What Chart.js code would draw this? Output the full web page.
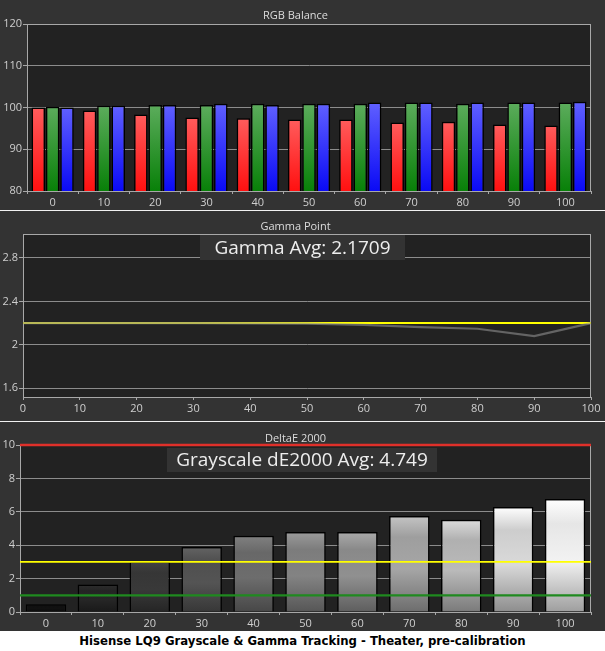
<!DOCTYPE html>
<html>
<head>
<meta charset="utf-8">
<script src="https://cdn.jsdelivr.net/npm/chart.js@4.4.1/dist/chart.umd.min.js"></script>
<style>
  html, body { margin: 0; padding: 0; background: #ffffff; }
  body { width: 605px; height: 651px; position: relative; overflow: hidden; }
  .panel { position: absolute; left: 0; width: 605px; background: #333333; }
  .sep { position: absolute; left: 0; width: 605px; height: 1px; background: #f2f2f2; }
  #caption { position: absolute; left: 0; top: 631px; width: 605px; height: 20px; line-height: 20px;
    text-align: center; font-family: 'DejaVu Sans Condensed', 'DejaVu Sans', sans-serif; font-weight: bold;
    font-size: 13px; color: #000; }
</style>
</head>
<body>
<div class="panel" style="top:0;height:210px"><canvas id="rgb"></canvas></div>
<div class="sep" style="top:210px"></div>
<div class="panel" style="top:211px;height:210px"><canvas id="gamma"></canvas></div>
<div class="sep" style="top:421px"></div>
<div class="panel" style="top:422px;height:209px"><canvas id="de"></canvas></div>
<div id="caption">Hisense LQ9 Grayscale &amp; Gamma Tracking - Theater, pre-calibration</div>
<script>
// ---------- DATA ----------
const levels = ['0','10','20','30','40','50','60','70','80','90','100'];
const redValues   = [100.0, 99.3, 98.3, 97.6, 97.4, 97.1, 97.1, 96.4, 96.6, 95.9, 95.7];
const greenValues = [100.2, 100.4, 100.6, 100.6, 100.9, 100.9, 100.9, 101.2, 100.9, 101.2, 101.2];
const blueValues  = [100.0, 100.4, 100.6, 100.9, 100.6, 100.9, 101.2, 101.2, 101.2, 101.2, 101.4];
const rgbTicks = [80, 90, 100, 110, 120];

const gammaTarget = [2.2, 2.2, 2.2, 2.2, 2.2, 2.2, 2.2, 2.2, 2.2, 2.2, 2.2];
const gammaMeasured = [2.2, 2.2, 2.2, 2.2, 2.198, 2.195, 2.184, 2.163, 2.148, 2.08, 2.2];
const gammaTicks = [1.6, 2.0, 2.4, 2.8];
const gammaAvgText = 'Gamma Avg: 2.1709';

const deltaE = [0.46, 1.64, 3.02, 3.89, 4.57, 4.79, 4.79, 5.75, 5.53, 6.29, 6.77];
const deTicks = [0, 2, 4, 6, 8, 10];
const deThresholds = [10, 3, 1];
const deAvgText = 'Grayscale dE2000 Avg: 4.749';

// ---------- STYLE ----------
Chart.defaults.font.family = "'Open Sans', 'Noto Sans', sans-serif";
Chart.defaults.font.size = 11;
Chart.defaults.color = '#cfcfcf';
Chart.defaults.animation = false;

const GRID = '#8c8c8c';
const BORDER = '#a8a8a8';

function shade(rgb, f) {
  return 'rgb(' + rgb.map(v => Math.max(0, Math.min(255, Math.round(v * f)))).join(',') + ')';
}

const framePlugin = {
  id: 'frame',
  beforeDraw(chart) {
    const {ctx, chartArea: a} = chart;
    ctx.save();
    ctx.fillStyle = '#222222';
    ctx.fillRect(a.left, a.top, a.right - a.left, a.bottom - a.top);
    ctx.restore();
  },
  beforeDatasetsDraw(chart) {
    const {ctx, chartArea: a} = chart;
    ctx.save();
    ctx.strokeStyle = BORDER;
    ctx.lineWidth = 1;
    ctx.strokeRect(a.left + 0.5, a.top + 0.5, a.right - a.left - 1, a.bottom - a.top);
    ctx.restore();
  }
};

function avgBoxPlugin(text, box, fontSize) {
  return {
    id: 'avgbox',
    afterDraw(chart) {
      const ctx = chart.ctx;
      ctx.save();
      ctx.fillStyle = '#333333';
      ctx.fillRect(box[0], box[1], box[2] - box[0], box[3] - box[1]);
      ctx.fillStyle = '#eeeeee';
      ctx.font = fontSize + "px 'Open Sans', 'Noto Sans', sans-serif";
      ctx.textAlign = 'center';
      ctx.textBaseline = 'middle';
      ctx.fillText(text, (box[0] + box[2]) / 2, (box[1] + box[3]) / 2 + 1);
      ctx.restore();
    }
  };
}

// vertical gradient spanning one bar, from its top (value) down to the axis minimum
function barGradient(ctx, stops, fallback) {
  const chart = ctx.chart;
  if (!chart.chartArea || ctx.raw === undefined) return fallback;
  const y = chart.scales.y;
  const top = y.getPixelForValue(ctx.raw);
  const bot = y.getPixelForValue(y.min);
  if (!isFinite(top) || !isFinite(bot) || Math.abs(bot - top) < 1) return fallback;
  const g = chart.ctx.createLinearGradient(0, top, 0, bot);
  stops.forEach(s => g.addColorStop(s[0], s[1]));
  return g;
}

function yAxis(opts, width, ticks, fmt) {
  return Object.assign({
    grid: { color: GRID, tickLength: 4, drawTicks: true, tickColor: BORDER },
    border: { display: true, color: BORDER },
    ticks: { padding: 1, color: '#cfcfcf', callback: fmt },
    afterFit(s) { s.width = width; },
    afterBuildTicks(s) { s.ticks = ticks.map(v => ({ value: v })); }
  }, opts);
}

function xAxis(height, offset) {
  return {
    offset: offset,
    grid: { display: true, drawOnChartArea: false, drawTicks: true, tickLength: 3, tickColor: BORDER, offset: offset },
    border: { display: true, color: BORDER },
    ticks: { padding: 2, color: '#cfcfcf', maxRotation: 0, autoSkip: false },
    afterFit(s) { s.height = height; }
  };
}

function titleOpts(text, top, bottom) {
  return { display: true, text: text, color: '#dcdcdc', font: { size: 11, weight: 'normal', lineHeight: 1.0 },
           padding: { top: top, bottom: bottom } };
}

// ---------- RGB BALANCE ----------
new Chart(document.getElementById('rgb'), {
  type: 'bar',
  data: {
    labels: levels,
    datasets: [
      { label: 'Red', data: redValues, borderColor: '#000', borderWidth: 1.5,
        backgroundColor: c => barGradient(c, [[0, 'rgb(255,92,92)'], [1, 'rgb(255,16,16)']], '#ff2020') },
      { label: 'Green', data: greenValues, borderColor: '#000', borderWidth: 1.5,
        backgroundColor: c => barGradient(c, [[0, 'rgb(92,172,92)'], [1, 'rgb(8,128,8)']], '#108010') },
      { label: 'Blue', data: blueValues, borderColor: '#000', borderWidth: 1.5,
        backgroundColor: c => barGradient(c, [[0, 'rgb(96,96,255)'], [1, 'rgb(10,10,245)']], '#2020ff') }
    ]
  },
  options: {
    responsive: true, maintainAspectRatio: false,
    layout: { padding: { left: 0, right: 14, top: 0, bottom: 0 } },
    categoryPercentage: 0.84, barPercentage: 0.94,
    plugins: { legend: { display: false }, tooltip: { enabled: false },
               title: titleOpts('RGB Balance', 10, 3) },
    scales: {
      x: xAxis(19, true),
      y: yAxis({ min: 80, max: 120 }, 27, rgbTicks, v => String(v))
    }
  },
  plugins: [framePlugin]
});

// ---------- GAMMA POINT ----------
new Chart(document.getElementById('gamma'), {
  type: 'line',
  data: {
    labels: levels,
    datasets: [
      { label: 'Target', data: gammaTarget, borderColor: '#ffff00', borderWidth: 2, pointRadius: 0, tension: 0, order: 2 },
      { label: 'Gamma', data: gammaMeasured, borderColor: 'rgba(140,140,140,0.62)', borderWidth: 2.2, pointRadius: 0, tension: 0, order: 1 }
    ]
  },
  options: {
    responsive: true, maintainAspectRatio: false,
    layout: { padding: { left: 0, right: 14, top: 0, bottom: 0 } },
    plugins: { legend: { display: false }, tooltip: { enabled: false },
               title: titleOpts('Gamma Point', 10, 2) },
    scales: {
      x: xAxis(24, false),
      y: yAxis({ min: 1.52, max: 3.02 }, 23, gammaTicks, v => String(+Number(v).toFixed(1)))
    }
  },
  plugins: [framePlugin, avgBoxPlugin(gammaAvgText, [200, 24, 405, 49], 19)]
});

// ---------- DELTA E 2000 ----------
const grayBase = [[18,18,18],[40,40,40],[60,60,60],[88,88,88],[115,115,115],[138,138,138],[152,152,152],[175,175,175],[196,196,196],[228,228,228],[255,255,255]];
const thresholdPlugin = {
  id: 'thresholds',
  afterDatasetsDraw(chart) {
    const {ctx, chartArea: a} = chart;
    const y = chart.scales.y;
    const colors = ['#e0302a', '#ffff00', '#1f8a1f'];
    const widths = [2.5, 1.6, 2.2];
    ctx.save();
    deThresholds.forEach((v, i) => {
      const py = y.getPixelForValue(v);
      ctx.strokeStyle = colors[i];
      ctx.lineWidth = widths[i];
      ctx.beginPath();
      ctx.moveTo(a.left, py);
      ctx.lineTo(a.right, py);
      ctx.stroke();
    });
    ctx.restore();
  }
};
const grayStops = [[0, 1.12], [0.22, 0.9], [0.55, 0.95], [1, 0.62]];
new Chart(document.getElementById('de'), {
  type: 'bar',
  data: {
    labels: levels,
    datasets: [
      { label: 'dE2000', data: deltaE, borderColor: '#000', borderWidth: 1.5,
        backgroundColor: c => {
          const base = grayBase[c.dataIndex] || [128,128,128];
          return barGradient(c, grayStops.map(s => [s[0], shade(base, s[1])]), shade(base, 1));
        } }
    ]
  },
  options: {
    responsive: true, maintainAspectRatio: false,
    layout: { padding: { left: 0, right: 14, top: 0, bottom: 0 } },
    categoryPercentage: 1.0, barPercentage: 0.78,
    plugins: { legend: { display: false }, tooltip: { enabled: false },
               title: titleOpts('DeltaE 2000', 11, 1) },
    scales: {
      x: xAxis(19, true),
      y: yAxis({ min: 0, max: 10 }, 20, deTicks, v => String(v))
    }
  },
  plugins: [framePlugin, thresholdPlugin, avgBoxPlugin(deAvgText, [167, 26, 437, 50], 19)]
});
</script>
</body>
</html>
